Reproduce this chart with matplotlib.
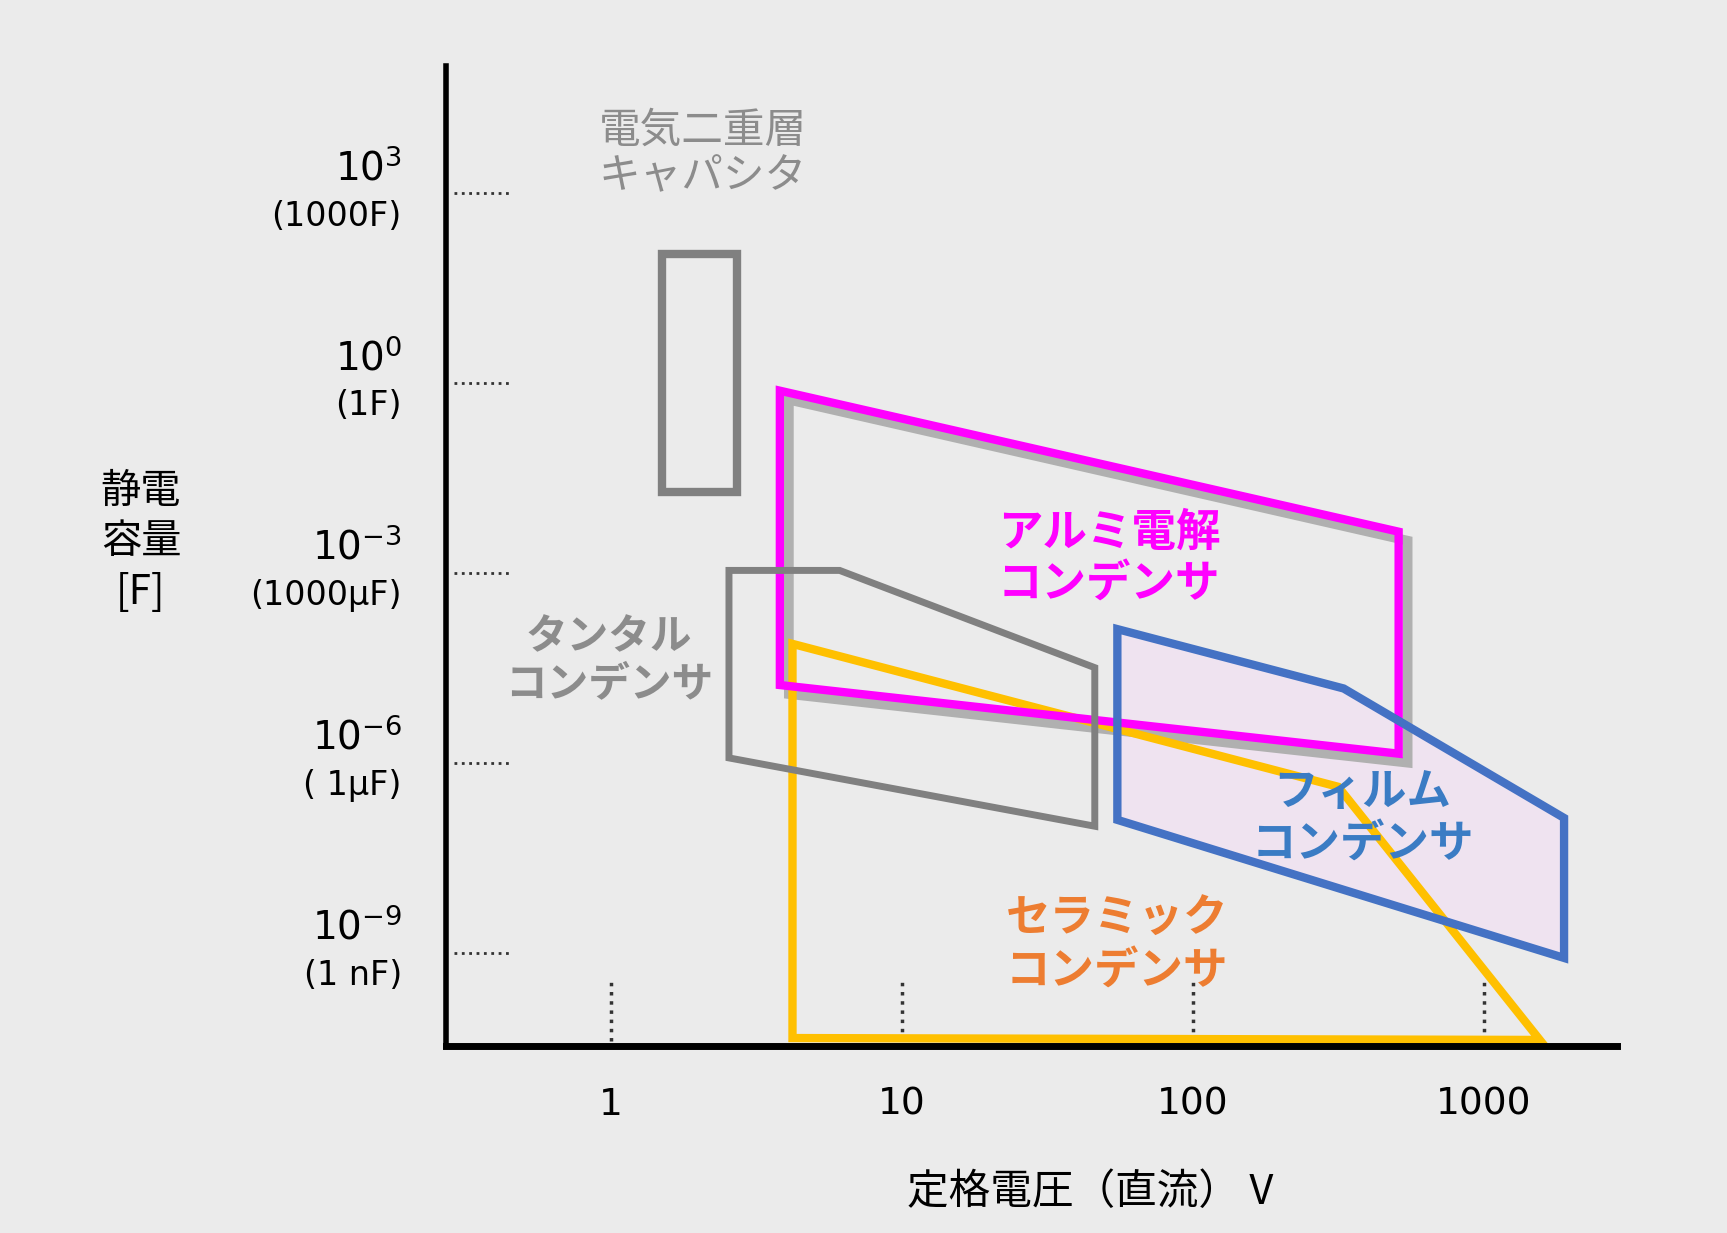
import matplotlib
matplotlib.use("Agg")
import matplotlib.pyplot as plt
from matplotlib.patches import Polygon
from matplotlib.transforms import offset_copy

plt.rcParams['font.family'] = ['Noto Sans CJK JP', 'DejaVu Sans']

# rated voltage [V] / capacitance [F] of each region outline
edlc_v = [1.5, 2.7, 2.7, 1.5]
edlc_c = [1.1e2, 1.1e2, 1.9e-2, 1.9e-2]
alu_v = [3.8, 510, 510, 3.8]
alu_c = [7.6e-1, 4.5e-3, 1.4e-6, 1.7e-5]
tan_v = [2.54, 6.1, 46, 46, 2.54]
tan_c = [1.1e-3, 1.1e-3, 3.2e-5, 1.0e-7, 1.2e-6]
cer_v = [4.2, 316, 1560, 4.2]
cer_c = [7.6e-5, 4.2e-7, 4.2e-11, 4.5e-11]
film_v = [55, 330, 1890, 1890, 55]
film_c = [1.3e-4, 1.5e-5, 1.35e-7, 8.3e-10, 1.26e-7]

ytick_vals = [1e3, 1e0, 1e-3, 1e-6, 1e-9]
ytick_top = ['$10^{3}$', '$10^{0}$', '$10^{-3}$', '$10^{-6}$', '$10^{-9}$']
ytick_bot = ['(1000F)', '(1F)', '(1000µF)', '( 1µF)', '(1 nF)']
xtick_vals = [1, 10, 100, 1000]
xtick_labels = ['1', '10', '100', '1000']

W, H = 1568, 1120
fig = plt.figure(figsize=(17.27, 12.33), dpi=100)
fig.patch.set_facecolor('#ebebeb')
ax = fig.add_axes([405 / W, 1 - 950 / H, (1468 - 405) / W, (950 - 60) / H])
ax.set_facecolor('#ebebeb')
ax.set_xscale('log')
ax.set_yscale('log')
ax.set_xlim(10 ** -0.568, 10 ** 3.458)
ax.set_ylim(10 ** -10.47, 10 ** 5.01)
for s in ['top', 'right']:
    ax.spines[s].set_visible(False)
ax.spines['left'].set_linewidth(4)
ax.spines['bottom'].set_linewidth(5)
ax.set_xticks([])
ax.set_yticks([])
ax.minorticks_off()

# dotted guide ticks
for yv in ytick_vals:
    ax.plot([10 ** -0.54, 10 ** -0.34], [yv, yv], ls=':', color='#333', lw=2, clip_on=False)
for xv in xtick_vals:
    ax.plot([xv, xv], [10 ** -10.4, 10 ** -9.4], ls=':', color='#333', lw=2.5)


def poly(v, c, color, lw=6, fill='none', offset=None, z=3):
    p = Polygon(list(zip(v, c)), closed=True, facecolor=fill, edgecolor=color, lw=lw,
                zorder=z, joinstyle='miter')
    if offset is not None:
        p.set_transform(offset_copy(ax.transData, fig=fig, x=offset[0], y=offset[1], units='dots'))
    ax.add_patch(p)


poly(edlc_v, edlc_c, '#808080', lw=6)
poly(alu_v, alu_c, '#b0b0b0', lw=7, offset=(9, -9), z=2)
poly(alu_v, alu_c, '#ff00ff', lw=6, z=3)
poly(tan_v, tan_c, '#808080', lw=5, z=3)
poly(film_v, film_c, 'none', lw=0, fill='#efe3f0', z=1)
poly(cer_v, cer_c, '#ffc000', lw=6, z=2)
poly(film_v, film_c, '#4472c4', lw=6, z=4)

# tick labels
for yv, t, b in zip(ytick_vals, ytick_top, ytick_bot):
    ax.text(10 ** -0.72, yv * 10 ** 0.08, t, ha='right', va='bottom', fontsize=28,
            family='DejaVu Sans', clip_on=False)
    ax.text(10 ** -0.72, yv / 10 ** 0.1, b, ha='right', va='top', fontsize=24,
            family='DejaVu Sans', clip_on=False)
for xv, l in zip(xtick_vals, xtick_labels):
    ax.text(xv, 10 ** -11.4, l, ha='center', va='center', fontsize=27,
            family='DejaVu Sans', clip_on=False)

fig.text(128 / W, 1 - 492 / H, '静電\n容量\n[F]', ha='center', va='center', fontsize=29,
         linespacing=1.3)
fig.text(990 / W, 1 - 1083 / H, '定格電圧（直流） V', ha='center', va='center', fontsize=30)

fig.text(638 / W, 1 - 140 / H, '電気二重層\nキャパシタ', ha='center', va='center',
         fontsize=30, color='#8c8c8c', linespacing=1.15)
fig.text(1007 / W, 1 - 507 / H, 'アルミ電解\nコンデンサ', ha='center', va='center',
         fontsize=32, color='#ff00ff', weight='bold', linespacing=1.15)
fig.text(553 / W, 1 - 600 / H, 'タンタル\nコンデンサ', ha='center', va='center',
         fontsize=30, color='#8c8c8c', weight='bold', linespacing=1.15)
fig.text(1237 / W, 1 - 743 / H, 'フィルム\nコンデンサ', ha='center', va='center',
         fontsize=32, color='#3a7cc4', weight='bold', linespacing=1.15)
fig.text(1014 / W, 1 - 858 / H, 'セラミック\nコンデンサ', ha='center', va='center',
         fontsize=32, color='#ed7d31', weight='bold', linespacing=1.15)

fig.savefig('out.png', dpi=100, facecolor=fig.get_facecolor())
